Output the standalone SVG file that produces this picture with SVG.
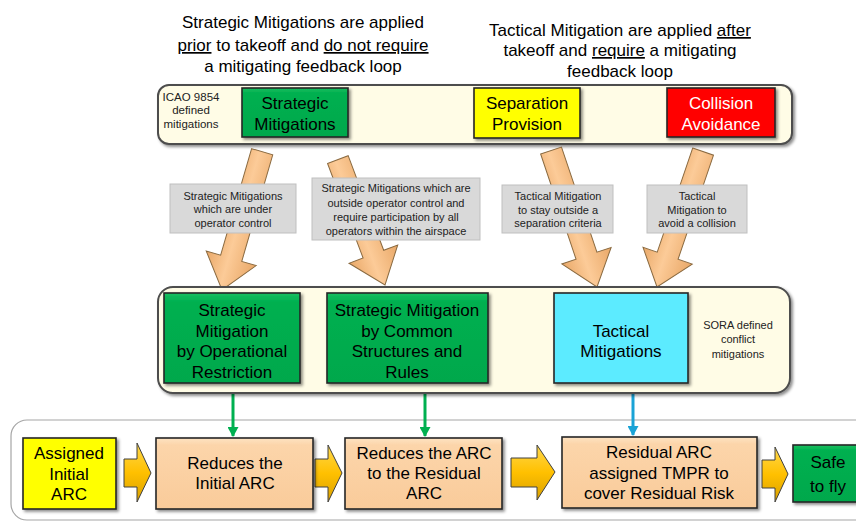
<svg xmlns="http://www.w3.org/2000/svg" width="856" height="523" viewBox="0 0 856 523">
<style>
text{font-family:"Liberation Sans",Arial,sans-serif;fill:#000}
.h{font-size:17px;text-anchor:middle}
.b{font-size:17px;text-anchor:middle}
.s{font-size:11px;text-anchor:middle;fill:#222}
.u{text-decoration:underline}
.cont{fill:#FFFCE6;stroke:#4D4D4D;stroke-width:2}
.box{stroke:#262626;stroke-width:1.6}
.lbl{fill:#D9D9D9;stroke:#BFBFBF;stroke-width:1}
.oa{fill:url(#og);stroke:#8A6A40;stroke-width:1}
.ga{fill:url(#gg);stroke:#404040;stroke-width:1}
.w{fill:#fff}
</style>
<defs>
<filter id="sh" x="-10%" y="-10%" width="130%" height="140%">
<feDropShadow dx="2" dy="2" stdDeviation="1.5" flood-color="#000" flood-opacity="0.45"/>
</filter>
<linearGradient id="og" x1="0" y1="0" x2="1" y2="0">
<stop offset="0" stop-color="#E9A868"/>
<stop offset="0.45" stop-color="#FCCB98"/>
<stop offset="1" stop-color="#E9A868"/>
</linearGradient>
<linearGradient id="gg" x1="0" y1="0" x2="0" y2="1">
<stop offset="0" stop-color="#FFD84D"/>
<stop offset="0.5" stop-color="#FFC000"/>
<stop offset="1" stop-color="#D9A000"/>
</linearGradient>
<linearGradient id="green" x1="0" y1="0" x2="0" y2="1">
<stop offset="0" stop-color="#19C060"/>
<stop offset="0.1" stop-color="#00B050"/>
<stop offset="1" stop-color="#00A84C"/>
</linearGradient>
<linearGradient id="peach" x1="0" y1="0" x2="0" y2="1">
<stop offset="0" stop-color="#FDE3C2"/>
<stop offset="0.1" stop-color="#FCD5AA"/>
<stop offset="1" stop-color="#F9CB9A"/>
</linearGradient>
<marker id="ag" markerWidth="11" markerHeight="10" refX="5.5" refY="9" markerUnits="userSpaceOnUse" viewBox="0 0 11 10">
<path d="M0,0 L11,0 L5.5,10 Z" fill="#00B050"/>
</marker>
<marker id="ab" markerWidth="11" markerHeight="10" refX="5.5" refY="9" markerUnits="userSpaceOnUse" viewBox="0 0 11 10">
<path d="M0,0 L11,0 L5.5,10 Z" fill="#1AA3D6"/>
</marker>
</defs>

<g id="header-strategic">
<text class="h" x="303" y="28">Strategic Mitigations are applied</text>
<text class="h" x="303" y="51"><tspan class="u">prior</tspan> to takeoff and <tspan class="u">do not require</tspan></text>
<text class="h" x="303" y="72">a mitigating feedback loop</text>
</g>
<g id="header-tactical">
<text class="h" x="620" y="36">Tactical Mitigation are applied <tspan class="u">after</tspan></text>
<text class="h" x="620" y="56">takeoff and <tspan class="u">require</tspan> a mitigating</text>
<text class="h" x="620" y="77">feedback loop</text>
</g>

<g id="bottom-container">
<rect x="11" y="420" width="880" height="100" rx="16" fill="#fff" stroke="#A6A6A6" stroke-width="1.2"/>
</g>

<g id="icao-container">
<rect class="cont" x="158" y="85" width="634" height="59" rx="11" filter="url(#sh)"/>
<text class="s" x="191" y="101" style="font-size:11.5px">ICAO 9854</text>
<text class="s" x="191" y="114" style="font-size:11.5px">defined</text>
<text class="s" x="191" y="128" style="font-size:11.5px">mitigations</text>
</g>
<g id="node-strategic">
<rect class="box" x="242" y="88" width="106" height="49" fill="url(#green)" filter="url(#sh)"/>
<text class="b" x="295" y="109">Strategic</text>
<text class="b" x="295" y="130">Mitigations</text>
</g>
<g id="node-separation">
<rect class="box" x="474" y="88" width="106" height="50" fill="#FFFF00" filter="url(#sh)"/>
<text class="b" x="527" y="109">Separation</text>
<text class="b" x="527" y="130">Provision</text>
</g>
<g id="node-collision">
<rect class="box" x="667" y="88" width="108" height="49" fill="#FF0000" filter="url(#sh)"/>
<text class="b w" x="721" y="109">Collision</text>
<text class="b w" x="721" y="130">Avoidance</text>
</g>

<g id="connectors">
<polygon class="oa" transform="translate(222,290) rotate(16.2)" points="-11,-144 11,-144 11,-33 26,-33 0,0 -26,-33 -11,-33"/>
<polygon class="oa" transform="translate(385,285) rotate(-20.6)" points="-11,-134 11,-134 11,-33 26,-33 0,0 -26,-33 -11,-33"/>
<polygon class="oa" transform="translate(597,287) rotate(-18.6)" points="-11,-144 11,-144 11,-33 26,-33 0,0 -26,-33 -11,-33"/>
<polygon class="oa" transform="translate(657,287) rotate(18.8)" points="-11,-143 11,-143 11,-33 26,-33 0,0 -26,-33 -11,-33"/>
<line x1="233" y1="384" x2="233" y2="436" stroke="#00B050" stroke-width="3" marker-end="url(#ag)"/>
<line x1="425" y1="384" x2="425" y2="436" stroke="#00B050" stroke-width="3" marker-end="url(#ag)"/>
<line x1="633" y1="384" x2="633" y2="435" stroke="#1AA3D6" stroke-width="3" marker-end="url(#ab)"/>
<polygon class="ga" points="124,459 137,459 137,443 151,473 137,502 137,487 124,487"/>
<polygon class="ga" points="315,459 328,459 328,445 342,473 328,502 328,487 315,487"/>
<polygon class="ga" points="511,458 537,458 537,445 555,472 537,500 537,487 511,487"/>
<polygon class="ga" points="762,460 775,460 775,447 788,474 775,502 775,488 762,488"/>
</g>

<g id="label-1">
<rect class="lbl" x="170" y="184" width="126" height="49"/>
<text class="s" x="233" y="200">Strategic Mitigations</text>
<text class="s" x="233" y="213">which are under</text>
<text class="s" x="233" y="227">operator control</text>
</g>
<g id="label-2">
<rect class="lbl" x="312" y="178" width="168" height="62"/>
<text class="s" x="396" y="192">Strategic Mitigations which are</text>
<text class="s" x="396" y="207">outside operator control and</text>
<text class="s" x="396" y="221">require participation by all</text>
<text class="s" x="396" y="235">operators within the airspace</text>
</g>
<g id="label-3">
<rect class="lbl" x="502" y="185" width="111" height="48"/>
<text class="s" x="558" y="200">Tactical Mitigation</text>
<text class="s" x="558" y="214">to stay outside a</text>
<text class="s" x="558" y="227">separation criteria</text>
</g>
<g id="label-4">
<rect class="lbl" x="647" y="185" width="100" height="48"/>
<text class="s" x="697" y="200">Tactical</text>
<text class="s" x="697" y="214">Mitigation to</text>
<text class="s" x="697" y="227">avoid a collision</text>
</g>

<g id="sora-container">
<rect class="cont" x="158" y="287" width="632" height="106" rx="15" filter="url(#sh)"/>
<text class="s" x="738" y="329">SORA defined</text>
<text class="s" x="738" y="343">conflict</text>
<text class="s" x="738" y="358">mitigations</text>
</g>
<g id="node-operational">
<rect class="box" x="164" y="293" width="136" height="90" fill="url(#green)" filter="url(#sh)"/>
<text class="b" x="232" y="316">Strategic</text>
<text class="b" x="232" y="337">Mitigation</text>
<text class="b" x="232" y="357">by Operational</text>
<text class="b" x="232" y="378">Restriction</text>
</g>
<g id="node-common">
<rect class="box" x="327" y="293" width="161" height="90" fill="url(#green)" filter="url(#sh)"/>
<text class="b" x="407" y="316">Strategic Mitigation</text>
<text class="b" x="407" y="337">by Common</text>
<text class="b" x="407" y="357">Structures and</text>
<text class="b" x="407" y="378">Rules</text>
</g>
<g id="node-tactical">
<rect class="box" x="554" y="293" width="134" height="90" fill="#5CEBFF" filter="url(#sh)"/>
<text class="b" x="621" y="337">Tactical</text>
<text class="b" x="621" y="357">Mitigations</text>
</g>

<g id="node-assigned">
<rect class="box" x="23" y="438" width="93" height="71" fill="#FFFF00" filter="url(#sh)"/>
<text class="b" x="69" y="459">Assigned</text>
<text class="b" x="69" y="480">Initial</text>
<text class="b" x="69" y="500">ARC</text>
</g>
<g id="node-reduces-initial">
<rect class="box" x="156" y="438" width="157" height="71" fill="url(#peach)" filter="url(#sh)"/>
<text class="b" x="235" y="469">Reduces the</text>
<text class="b" x="235" y="489">Initial ARC</text>
</g>
<g id="node-reduces-residual">
<rect class="box" x="345" y="438" width="157" height="71" fill="url(#peach)" filter="url(#sh)"/>
<text class="b" x="424" y="459">Reduces the ARC</text>
<text class="b" x="424" y="479">to the Residual</text>
<text class="b" x="424" y="499">ARC</text>
</g>
<g id="node-residual-tmpr">
<rect class="box" x="562" y="437" width="195" height="71" fill="url(#peach)" filter="url(#sh)"/>
<text class="b" x="659" y="458">Residual ARC</text>
<text class="b" x="659" y="479">assigned TMPR to</text>
<text class="b" x="659" y="499">cover Residual Risk</text>
</g>
<g id="node-safe">
<rect class="box" x="793" y="445" width="70" height="57" fill="url(#green)" filter="url(#sh)"/>
<text class="b" x="828" y="468">Safe</text>
<text class="b" x="828" y="492">to fly</text>
</g>
</svg>
